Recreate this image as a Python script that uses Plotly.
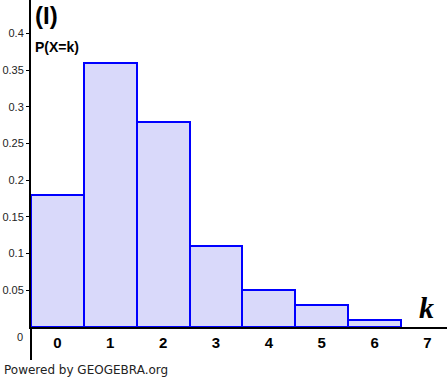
import plotly.graph_objects as go

k_values = [0, 1, 2, 3, 4, 5, 6]
probabilities = [0.18, 0.36, 0.28, 0.11, 0.05, 0.03, 0.01]
x_tick_vals = [0, 1, 2, 3, 4, 5, 6, 7]
x_tick_text = ["0", "1", "2", "3", "4", "5", "6", "7"]
y_tick_vals = [0.05, 0.1, 0.15, 0.2, 0.25, 0.3, 0.35, 0.4]
y_tick_text = ["0.05", "0.1", "0.15", "0.2", "0.25", "0.3", "0.35", "0.4"]

fig = go.Figure()
fig.add_trace(go.Bar(
    x=k_values, y=probabilities, width=1,
    marker=dict(color="#d9d9fa", line=dict(color="#0000ff", width=2)),
    hoverinfo="x+y", showlegend=False,
))

fig.update_layout(
    width=447, height=383,
    margin=dict(l=31, r=0, t=0, b=56, autoexpand=False),
    paper_bgcolor="white", plot_bgcolor="white",
    bargap=0,
    xaxis=dict(
        range=[-0.5, 7.37], showgrid=False, zeroline=False, automargin=False,
        showline=True, linecolor="black", linewidth=2, layer="below traces",
        tickvals=x_tick_vals, ticktext=x_tick_text, ticks="",
        tickfont=dict(family="Liberation Sans, Arial", size=15, color="black", weight="bold"),
        ticklabelstandoff=1,
    ),
    yaxis=dict(
        range=[0, 0.4457], showgrid=False, zeroline=False, automargin=False,
        showline=True, linecolor="black", linewidth=2, layer="below traces",
        tickvals=y_tick_vals, ticktext=y_tick_text,
        ticks="outside", ticklen=3, tickcolor="black", tickwidth=1,
        tickfont=dict(family="Liberation Sans, Arial", size=11, color="#222"),
    ),
    shapes=[dict(type="line", xref="paper", yref="paper", x0=0, x1=0, y0=0, y1=-0.101,
                 line=dict(color="black", width=2))],
    annotations=[
        dict(text="<b>(I)</b>", xref="x", yref="y", x=-0.46, y=0.424, xanchor="left", yanchor="middle",
             showarrow=False, font=dict(family="Liberation Sans, Arial", size=24, color="black")),
        dict(text="<b>P(X=k)</b>", xref="x", yref="y", x=-0.46, y=0.381, xanchor="left", yanchor="middle",
             showarrow=False, font=dict(family="Liberation Sans, Arial", size=14, color="black")),
        dict(text="<b><i>k</i></b>", xref="x", yref="y", x=6.99, y=0.026, xanchor="center", yanchor="middle",
             showarrow=False, font=dict(family="Liberation Serif, DejaVu Serif", size=30, color="black")),
        dict(text="0", xref="paper", yref="paper", x=-0.026, y=-0.031, xanchor="center", yanchor="middle",
             showarrow=False, font=dict(family="Liberation Sans, Arial", size=11, color="#222")),
        dict(text="Powered by GEOGEBRA.org", xref="paper", yref="paper", x=-0.0705, y=-0.1315,
             xanchor="left", yanchor="middle", showarrow=False,
             font=dict(family="DejaVu Sans", size=12, color="#222")),
    ],
)

fig.write_html("out.html", config={"displayModeBar": False},
               post_script="document.body.style.margin='0';document.body.style.overflow='hidden';")
